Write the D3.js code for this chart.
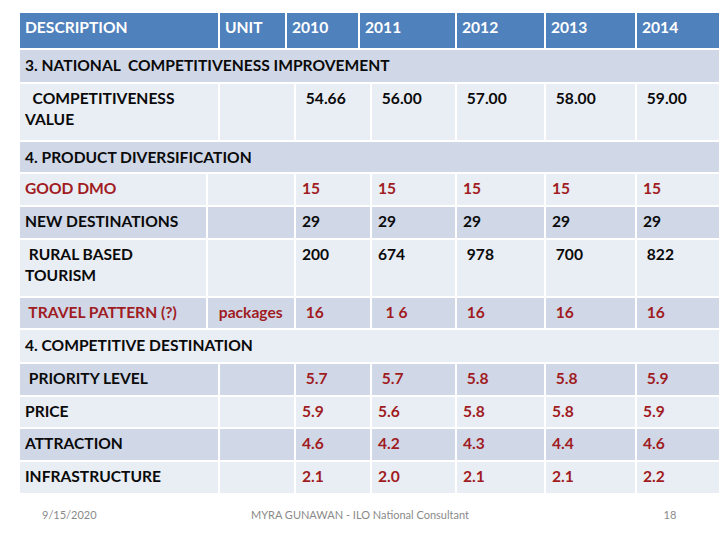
<!DOCTYPE html>
<html><head><meta charset="utf-8">
<script src="https://cdn.jsdelivr.net/npm/d3@7"></script>
<style>
html,body{margin:0;padding:0;background:#fff;}
text{white-space:pre;}
</style></head>
<body><div id="chart"></div>
<script>
// ---- data ----
const headerLabels = ["DESCRIPTION","UNIT","2010","2011","2012","2013","2014"];
const sections = ["3. NATIONAL  COMPETITIVENESS IMPROVEMENT","4. PRODUCT DIVERSIFICATION","4. COMPETITIVE DESTINATION"];
const indicators = [["  COMPETITIVENESS","VALUE"],["GOOD DMO"],["NEW DESTINATIONS"],[" RURAL BASED","TOURISM"],[" TRAVEL PATTERN (?)"],[" PRIORITY LEVEL"],["PRICE"],["ATTRACTION"],["INFRASTRUCTURE"]];
const indicatorSection = [0,1,1,1,1,2,2,2,2];
const units = ["","","","","packages","","","",""];
const v2010 = [" 54.66","15","29","200"," 16"," 5.7","5.9","4.6","2.1"];
const v2011 = [" 56.00","15","29","674","  1 6"," 5.7","5.6","4.2","2.0"];
const v2012 = [" 57.00","15","29"," 978"," 16"," 5.8","5.8","4.3","2.1"];
const v2013 = [" 58.00","15","29"," 700"," 16"," 5.8","5.8","4.4","2.1"];
const v2014 = [" 59.00","15","29"," 822"," 16"," 5.9","5.9","4.6","2.2"];
const redRows = ["GOOD DMO"," TRAVEL PATTERN (?)"];
const redValueSections = [2];
const footerDate = "9/15/2020";
const footerText = "MYRA GUNAWAN - ILO National Consultant";
const pageNumber = "18";

// ---- layout ----
const W = 720, H = 540;
const FONT = "Lato, 'Open Sans', sans-serif";
const FS = 15.6;
const blue = "#4f81bd", dark = "#d0d8e8", light = "#e9edf4", red = "#a01c22", ink = "#0a0a0a";
const svg = d3.select("#chart").append("svg").attr("width", W).attr("height", H);
svg.append("rect").attr("width", W).attr("height", H).attr("fill", "#fff");

const values = [v2010, v2011, v2012, v2013, v2014];
const rows = [{type: "header"}];
sections.forEach((s, si) => {
  rows.push({type: "section", label: s, si});
  indicators.forEach((lab, i) => {
    if (indicatorSection[i] === si) rows.push({type: "data", i, si, lines: lab});
  });
});
const rowTops = [12,49,83,141,173,206,239,297,329,363,396,428,461,494];
const y = d3.scaleOrdinal().domain(d3.range(rows.length + 1)).range(rowTops);
const L = 19, R = 720;
const headerEdges = [L,219,286,359,456,545,636,R];
const bodyEdges = [L,219,295,371,456,545,636,R];
const productEdges = [L,207,295,371,456,545,636,R];

function txt(g, x, yy, s, color) {
  return g.append("text").attr("x", x).attr("y", yy).attr("dy", "0.36em")
    .attr("font-family", FONT).attr("font-weight", 700).attr("font-size", FS)
    .attr("fill", color).text(s);
}

rows.forEach((r, k) => {
  const top = y(k), h = y(k + 1) - top;
  const fill = r.type === "header" ? blue : (k % 2 === 1 ? dark : light);
  const g = svg.append("g");
  if (r.type === "section") {
    g.append("rect").attr("x", L).attr("y", top).attr("width", R - L).attr("height", h)
      .attr("fill", fill).attr("stroke", "#fff").attr("stroke-width", 2);
    txt(g, L + 6, top + 16.5, r.label, ink);
    return;
  }
  const edges = r.type === "header" ? headerEdges : (r.si === 1 ? productEdges : bodyEdges);
  const cells = d3.range(7).map(c => ({x0: edges[c], x1: edges[c + 1], c}));
  g.selectAll("rect").data(cells).join("rect")
    .attr("x", d => d.x0).attr("y", top).attr("width", d => d.x1 - d.x0).attr("height", h)
    .attr("fill", fill).attr("stroke", "#fff").attr("stroke-width", 2);
  if (r.type === "header") {
    cells.forEach(d => txt(g, d.x0 + 6, top + 15.5, headerLabels[d.c], "#fff"));
    return;
  }
  const i = r.i;
  const labRed = redRows.includes(r.lines[0]);
  const valRed = labRed || redValueSections.includes(r.si);
  const cy = top + 15;
  r.lines.forEach((ln, li) => txt(g, L + 6, cy + li * 21.5, ln, labRed ? red : ink));
  if (units[i]) txt(g, edges[1] + 8, cy, " " + units[i], labRed ? red : ink);
  values.forEach((arr, c) => txt(g, edges[c + 2] + 7, cy, arr[i], valRed ? red : ink));
});

// footer
svg.append("text").attr("x", 42).attr("y", 515).attr("dy", "0.35em").attr("font-family", FONT)
  .attr("font-size", 11).attr("fill", "#8a8a8a").text(footerDate);
svg.append("text").attr("x", 360).attr("y", 515).attr("dy", "0.35em").attr("text-anchor", "middle")
  .attr("font-family", FONT).attr("font-size", 11).attr("fill", "#8a8a8a").text(footerText);
svg.append("text").attr("x", 670).attr("y", 515).attr("dy", "0.35em").attr("text-anchor", "middle")
  .attr("font-family", FONT).attr("font-size", 11).attr("fill", "#8a8a8a").text(pageNumber);
</script></body></html>
